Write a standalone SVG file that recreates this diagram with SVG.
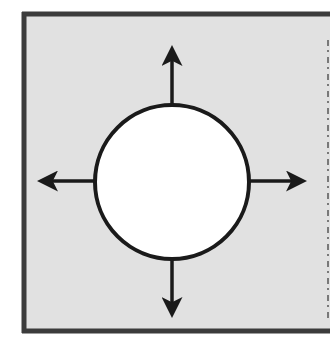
<svg xmlns="http://www.w3.org/2000/svg" width="330" height="340" viewBox="0 0 330 340">
<defs>
<style>
.fill{fill:#e1e1e1}
.edge{stroke:#3c3c3c;stroke-width:5;fill:none}
.edge-thin{stroke:#555555;stroke-width:1.5;fill:none;stroke-dasharray:6 4 2 5}
.circ{fill:#ffffff;stroke:#1a1a1a;stroke-width:4}
.conn{stroke:#1a1a1a;stroke-width:3.5;fill:none}
.head{fill:#1a1a1a}
</style>
<marker id="ah" markerWidth="6" markerHeight="6" refX="4" refY="3" orient="auto" markerUnits="strokeWidth">
<path d="M0,0 L6,3 L0,6 L1.5,3 Z" class="head"/>
</marker>
</defs>
<rect x="0" y="0" width="330" height="340" fill="#ffffff"/>
<g id="frame">
<rect class="fill" x="22" y="13" width="308" height="319"/>
<line class="edge" x1="22" y1="14" x2="330" y2="14"/>
<line class="edge" x1="24" y1="12" x2="24" y2="333"/>
<line class="edge" x1="22" y1="331" x2="330" y2="331"/>
<line class="edge-thin" x1="328" y1="40" x2="328" y2="320"/>
</g>
<g id="connectors">
<line class="conn" x1="172" y1="104" x2="172" y2="52" marker-end="url(#ah)"/>
<line class="conn" x1="94" y1="181" x2="44" y2="181" marker-end="url(#ah)"/>
<line class="conn" x1="250" y1="181" x2="300" y2="181" marker-end="url(#ah)"/>
<line class="conn" x1="172" y1="260" x2="172" y2="311" marker-end="url(#ah)"/>
</g>
<g id="center">
<circle class="circ" cx="172" cy="182" r="77"/>
</g>
</svg>
